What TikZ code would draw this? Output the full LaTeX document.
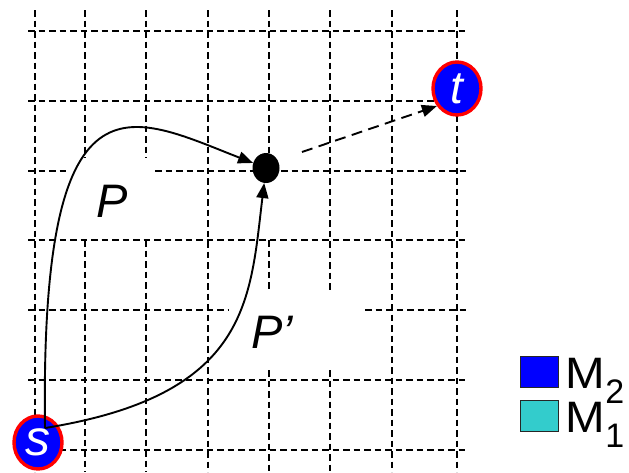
\documentclass[tikz,border=0pt]{standalone}
\usepackage{fontspec}
\setmainfont{Liberation Sans}
\usetikzlibrary{arrows.meta,shapes.geometric}
\definecolor{nodeblue}{RGB}{0,0,255}
\definecolor{nodered}{RGB}{255,0,0}
\definecolor{legcyan}{RGB}{51,204,204}
\begin{document}
\begin{tikzpicture}[x=1pt,y=-1pt,
  gridline/.style={line width=1.4pt, dash pattern=on 6.5pt off 4pt},
  term/.style={ellipse, draw=nodered, line width=3.4pt, fill=nodeblue, text=white,
    minimum width=48pt, minimum height=53pt, inner sep=0pt},
  dotnode/.style={ellipse, fill=black, minimum width=27pt, minimum height=30pt, inner sep=0pt},
  arr/.style={-{Triangle[length=15pt,width=12pt]}, line width=1.9pt},
  dasharr/.style={-{Triangle[length=15pt,width=12pt]}, line width=1.9pt, dash pattern=on 11pt off 6.5pt},
  legbox/.style={draw=black!85, line width=1.5pt, minimum width=38pt, minimum height=31pt, inner sep=0pt},
  lbl/.style={font=\fontsize{47}{47}\selectfont\itshape, inner sep=0pt}
]
\useasboundingbox (0,0) rectangle (629,472);
% grid verticals
\foreach \x in {35,208,392,457} \draw[gridline] (\x,10) -- (\x,472);
\foreach \x in {85,146} {
  \draw[gridline] (\x,10) -- (\x,158);
  \draw[gridline] (\x,240) -- (\x,472);
}
\draw[gridline] (269,10) -- (269,171);
\draw[gridline] (269,240) -- (269,292);
\draw[gridline] (269,370) -- (269,472);
\draw[gridline] (330,10) -- (330,292);
\draw[gridline] (330,370) -- (330,472);
% grid horizontals
\foreach \y in {31,101,240,380,450} \draw[gridline] (28,\y) -- (467,\y);
\draw[gridline] (28,171) -- (68,171);
\draw[gridline] (155,171) -- (467,171);
\draw[gridline] (28,310) -- (228,310);
\draw[gridline] (365,310) -- (467,310);
% nodes
\node[term, font=\fontsize{46}{46}\selectfont\itshape] (t) at (457,88.5) {t};
\node[term, font=\fontsize{50}{50}\selectfont\itshape] (s) at (38,442.5) {s};
\node[dotnode] (m) at (266,168) {};
% paths
\coordinate (s0) at (45,428);
\draw[arr] (s0) .. controls (40,60) and (130,115) .. (m);
\draw[arr] (s0) .. controls (250,395) and (250,300) .. (m);
\coordinate (d0) at (302,152);
\draw[dasharr] (d0) -- (t.221);
% labels
\node[lbl] (lp) at (112,201) {P};
\node[lbl] (lpp) at (272,332) {P’};
% legend
\node[legbox, fill=nodeblue] (l2) at (539.5,372) {};
\node[legbox, fill=legcyan] (l1) at (539.5,416) {};
\node[anchor=base west, inner sep=0pt] (m2) at (565.5,388)
  {\scalebox{1.08}[1]{\fontsize{44}{44}\selectfont M}\raisebox{-15pt}{\fontsize{34}{34}\selectfont 2}};
\node[anchor=base west, inner sep=0pt] (m1) at (565.5,432)
  {\scalebox{1.08}[1]{\fontsize{44}{44}\selectfont M}\raisebox{-15pt}{\fontsize{34}{34}\selectfont 1}};
\end{tikzpicture}
\end{document}
